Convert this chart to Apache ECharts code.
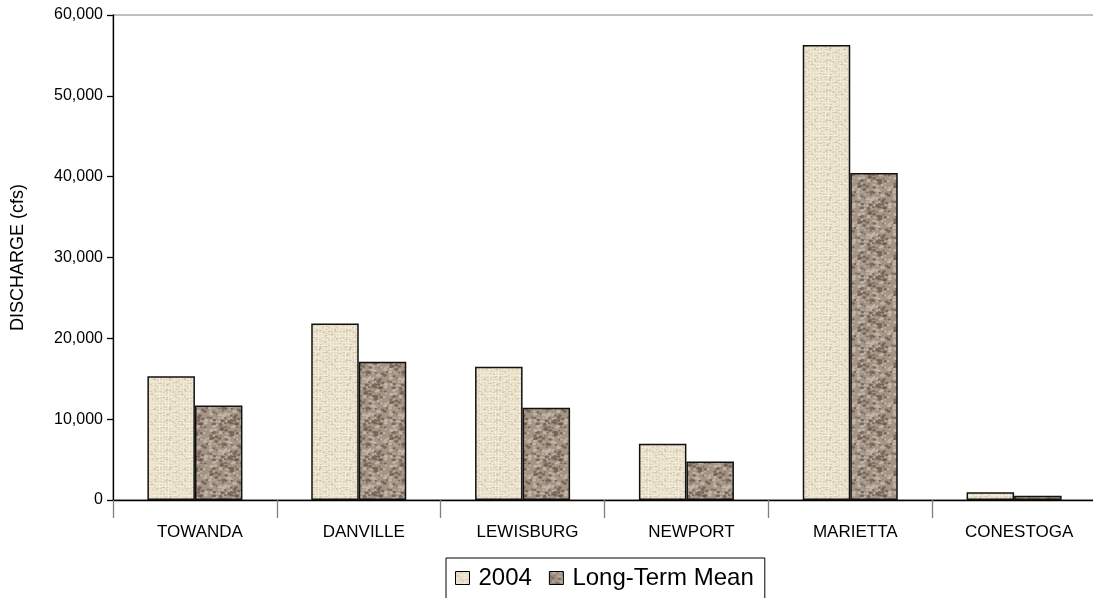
<!DOCTYPE html>
<html>
<head>
<meta charset="utf-8">
<script src="https://cdn.jsdelivr.net/npm/echarts@6/dist/echarts.min.js"></script>
<style>
html,body{margin:0;padding:0;background:#fff;overflow:hidden;}
#chart{width:1093px;height:598px;}
</style>
</head>
<body>
<div id="chart"></div>
<script>
var categories = ['TOWANDA', 'DANVILLE', 'LEWISBURG', 'NEWPORT', 'MARIETTA', 'CONESTOGA'];
var values2004 = [15300, 21850, 16500, 6950, 56300, 950];
var valuesMean = [11700, 17100, 11400, 4750, 40450, 530];
var seriesNames = ['2004', 'Long-Term Mean'];

function hash(i, j, s) {
  var h = (i * 374761393 + j * 668265263 + s * 982451653) | 0;
  h = Math.imul(h ^ (h >>> 13), 1274126177);
  h = h ^ (h >>> 16);
  return ((h >>> 0) % 1000) / 1000;
}

function linenPattern() {
  var c = document.createElement('canvas');
  c.width = 30; c.height = 30;
  var g = c.getContext('2d');
  g.fillStyle = '#E8DEC6';
  g.fillRect(0, 0, 30, 30);
  for (var x = 0; x < 30; x += 3) {
    var v = hash(x, 0, 3);
    g.fillStyle = 'rgba(248,244,232,' + (0.25 + v * 0.4) + ')';
    g.fillRect(x, 0, 1, 30);
  }
  for (var y = 0; y < 30; y += 3) {
    var w = hash(0, y, 5);
    g.fillStyle = 'rgba(248,244,232,' + (0.2 + w * 0.4) + ')';
    g.fillRect(0, y, 30, 1);
  }
  for (var yy = 0; yy < 30; yy++) {
    for (var xx = 0; xx < 30; xx++) {
      if (hash(xx, yy, 9) > 0.9) {
        g.fillStyle = 'rgba(190,176,146,0.45)';
        g.fillRect(xx, yy, 2, 1);
      }
    }
  }
  return c;
}

function stonePattern() {
  var c = document.createElement('canvas');
  c.width = 36; c.height = 36;
  var g = c.getContext('2d');
  g.fillStyle = '#A49484';
  g.fillRect(0, 0, 36, 36);
  for (var y = 0; y < 36; y += 3) {
    for (var x = 0; x < 36; x += 3) {
      var v = hash(x, y, 7);
      var ox = hash(x, y, 11) * 2, oy = hash(x, y, 13) * 2;
      var r = 0.7 + hash(x, y, 17) * 1.0;
      if (v > 0.6) {
        g.fillStyle = 'rgba(100,86,74,0.7)';
      } else if (v < 0.33) {
        g.fillStyle = 'rgba(204,194,184,0.7)';
      } else {
        continue;
      }
      for (var dx = -36; dx <= 36; dx += 36) {
        for (var dy = -36; dy <= 36; dy += 36) {
          g.beginPath();
          g.ellipse(x + ox + dx, y + oy + dy, r * 1.4, r, 0, 0, Math.PI * 2);
          g.fill();
        }
      }
    }
  }
  return c;
}

var chart = echarts.init(document.getElementById('chart'), null, {renderer: 'canvas'});
var fontFam = 'Liberation Sans, Arial, sans-serif';
chart.setOption({
  animation: false,
  backgroundColor: '#ffffff',
  grid: {
    left: 113, top: 15, right: -3, bottom: 98,
    containLabel: false,
    outerBoundsMode: 'none',
    show: true, borderColor: '#808080', borderWidth: 1, backgroundColor: 'transparent'
  },
  legend: {
    data: seriesNames,
    left: 446, top: 558,
    orient: 'horizontal',
    icon: 'rect',
    padding: [8, 11, 14, 9],
    itemWidth: 14, itemHeight: 13, itemGap: 17,
    borderColor: '#000', borderWidth: 1,
    textStyle: {fontFamily: fontFam, fontSize: 24, color: '#000', padding: [0, 0, 0, 4]},
    itemStyle: {borderColor: '#000', borderWidth: 1}
  },
  xAxis: {
    type: 'category',
    data: categories,
    boundaryGap: true,
    axisLine: {lineStyle: {color: '#000', width: 1.3}},
    axisTick: {show: true, length: 18, lineStyle: {color: '#808080', width: 1.3}},
    axisLabel: {fontFamily: fontFam, fontSize: 17, color: '#000', margin: 24, padding: [0, 0, 0, 10]}
  },
  yAxis: {
    type: 'value',
    min: 0, max: 60000, interval: 10000,
    name: 'DISCHARGE (cfs)',
    nameLocation: 'middle',
    nameGap: 86,
    nameTextStyle: {fontFamily: fontFam, fontSize: 18, color: '#000'},
    axisLine: {show: true, lineStyle: {color: '#000', width: 1.3}},
    axisTick: {show: true, length: 6, lineStyle: {color: '#000', width: 1.3}},
    splitLine: {show: false},
    axisLabel: {
      fontFamily: fontFam, fontSize: 16, color: '#000', margin: 10,
      formatter: function (v) { return v.toString().replace(/\B(?=(\d{3})+(?!\d))/g, ','); }
    }
  },
  series: [
    {
      name: seriesNames[0], type: 'bar', data: values2004,
      barWidth: '29%', barGap: '0%',
      itemStyle: {color: {image: linenPattern(), repeat: 'repeat'}, borderColor: '#111', borderWidth: 1.5}
    },
    {
      name: seriesNames[1], type: 'bar', data: valuesMean,
      barWidth: '29%', barGap: '0%',
      itemStyle: {color: {image: stonePattern(), repeat: 'repeat'}, borderColor: '#111', borderWidth: 1.5}
    }
  ]
});
</script>
</body>
</html>
